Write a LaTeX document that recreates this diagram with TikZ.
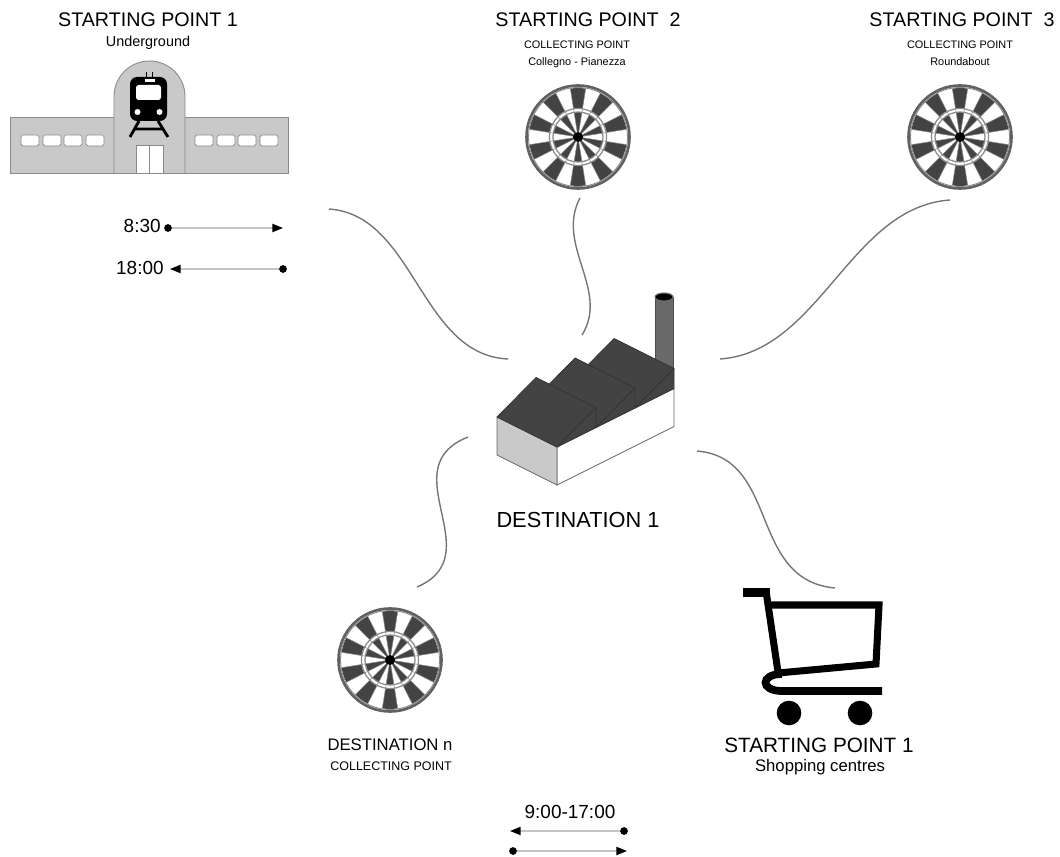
\documentclass[tikz,border=0pt]{standalone}
\usepackage{fontspec}
\setmainfont{Liberation Sans}
\usepackage{tikz}
\usetikzlibrary{positioning}
\usetikzlibrary{arrows.meta}

\definecolor{WallGrey}{HTML}{C9C9C9}
\definecolor{EdgeGrey}{HTML}{8A8A8A}
\definecolor{RoofGrey}{HTML}{434343}
\definecolor{RoadGrey}{HTML}{767676}
\definecolor{TrackGrey}{HTML}{C4C4C4}
\definecolor{StackGrey}{HTML}{6A6A6A}

\tikzset{
	title/.style={inner sep=0pt, anchor=base, font=\fontsize{11.2}{13}\selectfont},
	subtitle/.style={inner sep=0pt, anchor=base, font=\fontsize{8.2}{10}\selectfont},
	tinytitle/.style={inner sep=0pt, anchor=base, font=\fontsize{6.2}{8}\selectfont},
	timelabel/.style={inner sep=0pt, anchor=base east, font=\fontsize{10.8}{13}\selectfont},
	dot/.style={circle, fill=black, inner sep=0pt, minimum size=4.4pt},
	road/.style={RoadGrey, line width=0.8pt},
	timeline/.style={TrackGrey, line width=0.9pt, -{Triangle[length=6pt, width=4.6pt, color=black]}},
	roof/.style={fill=RoofGrey, draw=black!80, line width=0.4pt, line join=round},
	dartboard/.pic={
		\fill[white] (0,0) circle (52);
		\foreach \k in {0,2,...,18}{
			\pgfmathsetmacro\sa{81+18*\k}
			\pgfmathsetmacro\sb{99+18*\k}
			\fill[RoofGrey] (\sa:29) -- (\sa:49) arc [start angle=\sa, end angle=\sb, radius=49] -- (\sb:29) arc [start angle=\sb, end angle=\sa, radius=29] -- cycle;
			\fill[RoofGrey] (0,0) -- (\sa:25) arc [start angle=\sa, end angle=\sb, radius=25] -- cycle;
		}
		\foreach \k in {0,...,19}{
			\pgfmathsetmacro\sa{81+18*\k}
			\draw[EdgeGrey, line width=0.3pt] (\sa:5) -- (\sa:49);
		}
		\draw[EdgeGrey, line width=0.7pt] (0,0) circle (25) (0,0) circle (28.5);
		\draw[EdgeGrey, line width=0.5pt] (0,0) circle (49.5);
		\draw[black!62, line width=1.5pt] (0,0) circle (51.5);
		\fill[black] (0,0) circle (5);
	}
}

\begin{document}
\begin{tikzpicture}[x=0.02cm, y=-0.02cm]

	% ------------------------------------------------
	% Page size
	\useasboundingbox (0,0) rectangle (1060,857);

	% ------------------------------------------------
	% Underground station
	\filldraw[fill=WallGrey, draw=EdgeGrey, line width=0.5pt] (10,117) rectangle (288,173);
	\filldraw[fill=WallGrey, draw=EdgeGrey, line width=0.5pt] (114,173) -- (114,96.5) arc [start angle=180, end angle=360, radius=35.5] -- (185,173);
	\foreach \wx in {21,43,64,86,195,217,238,260}
		\filldraw[fill=white, draw=EdgeGrey, line width=0.4pt, rounded corners=1pt] (\wx,135) rectangle ++(18,11);
	\filldraw[fill=white, draw=EdgeGrey, line width=0.4pt] (136,145) rectangle (163,173);
	\draw[EdgeGrey, line width=0.4pt] (149.5,145) -- (149.5,173);

	% train sign
	\fill[black, rounded corners=4pt] (130,77) rectangle (167,121);
	\fill[white, rounded corners=1.5pt] (136,85) rectangle (161,100);
	\fill[white] (137.5,112) circle (3) (159.5,112) circle (3);
	\draw[black, line width=0.9pt] (146.5,72) -- (146.5,78) (152.5,72) -- (152.5,78);
	\filldraw[fill=white, draw=black, line width=0.5pt] (144,78) rectangle (155,82);
	\draw[black, line width=1.6pt] (139,121) -- (130,137) (158,121) -- (168,137) (134.5,129) -- (163.5,129);

	% ------------------------------------------------
	% Collecting points
	\pic at (578,137) {dartboard};
	\pic at (960,137) {dartboard};
	\pic at (390,660) {dartboard};

	% ------------------------------------------------
	% Factory
	\filldraw[fill=StackGrey, draw=black!70, line width=0.4pt] (655,297) -- (655,372) -- (673,372) -- (673,297);
	\filldraw[fill=black, draw=StackGrey, line width=0.6pt] (664,297) ellipse [x radius=9, y radius=4];
	\filldraw[fill=white, draw=black!60, line width=0.5pt] (557,447) -- (674,388.5) -- (674,426.5) -- (557,485) -- cycle;
	\filldraw[fill=WallGrey, draw=black!60, line width=0.5pt] (497,417) -- (557,447) -- (557,485) -- (497,455) -- cycle;

	% roofs, back to front
	\filldraw[roof] (575,378) -- (635,408) -- (674,368.5) -- (614,338.5) -- cycle;
	\filldraw[roof] (635,408) -- (674,368.5) -- (674,388.5) -- cycle;
	\filldraw[roof] (536,397.5) -- (596,427.5) -- (635,388) -- (575,358) -- cycle;
	\filldraw[roof] (596,427.5) -- (635,388) -- (635,408) -- cycle;
	\filldraw[roof] (497,417) -- (557,447) -- (596,407.5) -- (536,377.5) -- cycle;
	\filldraw[roof] (557,447) -- (596,407.5) -- (596,427.5) -- cycle;

	% ------------------------------------------------
	% Shopping trolley
	\fill[black] (743,588) rectangle (770,597);
	\draw[black, line width=4pt] (766,591) -- (778,672);
	\draw[black, line width=4pt, line join=miter] (768,605) -- (879,605) -- (876,664) -- (778,673);
	\draw[black, line width=4.4pt] (782,674) .. controls (760,674) and (760,691) .. (782,691) -- (882,691);
	\fill[black] (789,713) circle (12.3) (860,713) circle (12.3);

	% ------------------------------------------------
	% Road ends
	\coordinate (StationEnd) at (329,209);
	\coordinate (BoardTwoEnd) at (580,198);
	\coordinate (BoardThreeEnd) at (950,200);
	\coordinate (BoardNEnd) at (417,587);
	\coordinate (TrolleyEnd) at (835,588);

	\coordinate (FactoryWest) at (508,359);
	\coordinate (FactoryNorth) at (582,335);
	\coordinate (FactoryEast) at (720,359);
	\coordinate (FactorySouthWest) at (468,437);
	\coordinate (FactorySouthEast) at (697,451);

	% Roads
	\draw[road] (StationEnd) .. controls (415,215) and (420,355) .. (FactoryWest);
	\draw[road] (BoardTwoEnd) .. controls (555,245) and (610,290) .. (FactoryNorth);
	\draw[road] (BoardThreeEnd) .. controls (850,207) and (820,352) .. (FactoryEast);
	\draw[road] (FactorySouthWest) .. controls (390,468) and (492,555) .. (BoardNEnd);
	\draw[road] (FactorySouthEast) .. controls (780,458) and (748,580) .. (TrolleyEnd);

	% ------------------------------------------------
	% Labels
	\node[title] (SPOneTitle) at (148,27) {STARTING POINT 1};
	\node[subtitle] (SPOneSub) at (148,47) {Underground};

	\node[title] (SPTwoTitle) at (588,27) {STARTING POINT~ 2};
	\node[tinytitle] (SPTwoSubA) at (577,49) {COLLECTING POINT};
	\node[tinytitle] (SPTwoSubB) at (577,66) {Collegno - Pianezza};

	\node[title] (SPThreeTitle) at (962,27) {STARTING POINT~ 3};
	\node[tinytitle] (SPThreeSubA) at (960,49) {COLLECTING POINT};
	\node[tinytitle] (SPThreeSubB) at (960,66) {Roundabout};

	\node[title, font=\fontsize{12.4}{14}\selectfont] (DestOne) at (578,527) {DESTINATION 1};

	\node[title, font=\fontsize{9.5}{11}\selectfont] (DestN) at (390,750) {DESTINATION n};
	\node[subtitle, font=\fontsize{7.1}{9}\selectfont] (DestNSub) at (391,770) {COLLECTING POINT};

	\node[title, font=\fontsize{11.8}{14}\selectfont] (ShopTitle) at (819,752) {STARTING POINT 1};
	\node[subtitle, font=\fontsize{9.5}{11}\selectfont] (ShopSub) at (820,771) {Shopping centres};

	% ------------------------------------------------
	% Timetables
	\node[dot] (DotEightThirty) at (168,228) {};
	\path (DotEightThirty) +(115,0) coordinate (TipEightThirty);
	\node[timelabel] (LblEightThirty) at (161,233) {8:30};
	\draw[timeline] (DotEightThirty) -- (TipEightThirty);

	\node[dot] (DotEighteen) at (283,269) {};
	\path (DotEighteen) +(-113,0) coordinate (TipEighteen);
	\node[timelabel] (LblEighteen) at (164,275) {18:00};
	\draw[timeline] (DotEighteen) -- (TipEighteen);

	\node[title, font=\fontsize{10.8}{13}\selectfont] (LblDay) at (570,818) {9:00-17:00};
	\node[dot] (DotDayBack) at (624,831) {};
	\path (DotDayBack) +(-114,0) coordinate (TipDayBack);
	\draw[timeline] (DotDayBack) -- (TipDayBack);
	\node[dot] (DotDayOut) at (513,851) {};
	\path (DotDayOut) +(114,0) coordinate (TipDayOut);
	\draw[timeline] (DotDayOut) -- (TipDayOut);

\end{tikzpicture}
\end{document}
